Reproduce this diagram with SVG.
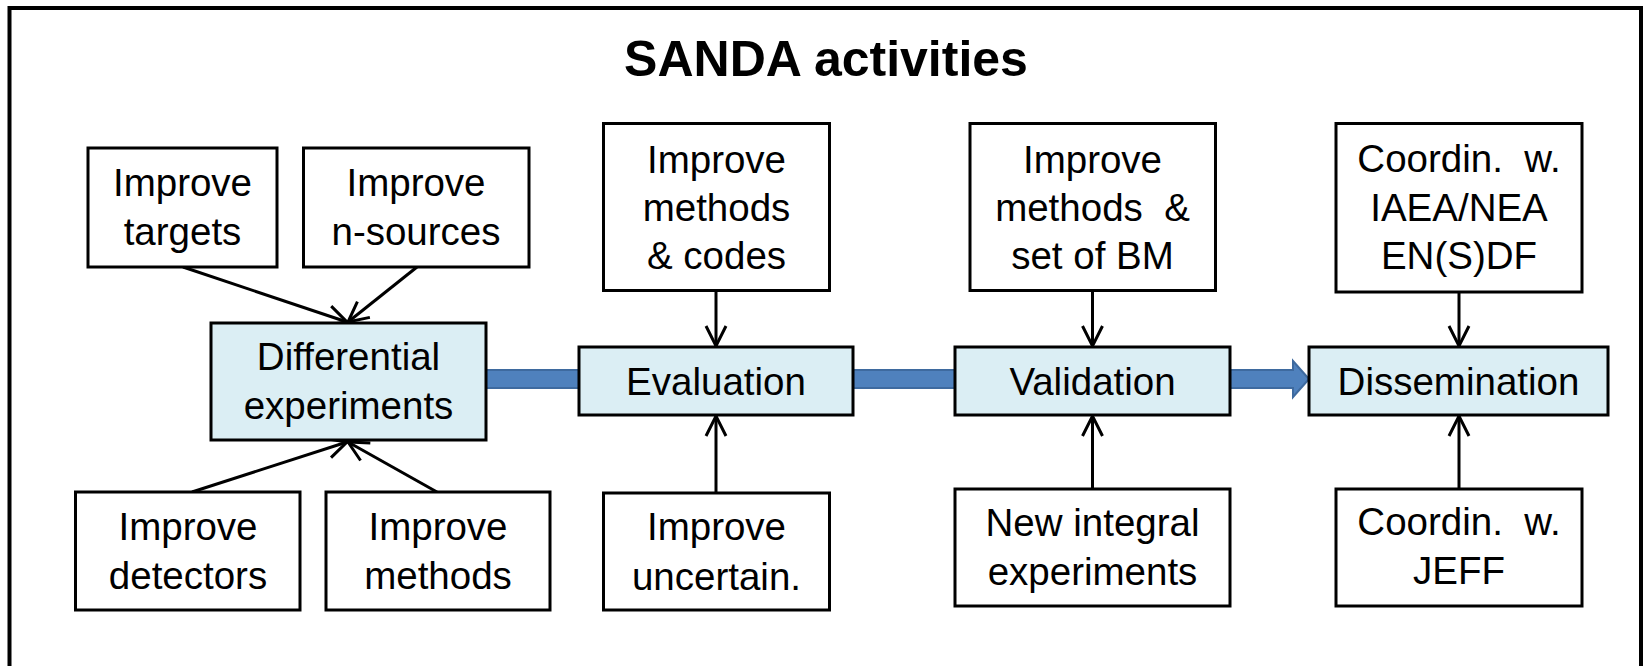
<svg xmlns="http://www.w3.org/2000/svg" width="1647" height="666" viewBox="0 0 1647 666">
  <style>
    .box { fill: #ffffff; stroke: #000; stroke-width: 3; }
    .main { fill: #DBEEF4; stroke: #000; stroke-width: 3; }
    .t { font-family: "Liberation Sans", Arial, sans-serif; font-size: 38.5px; fill: #000; text-anchor: middle; }
    .title { font-family: "Liberation Sans", Arial, sans-serif; font-size: 50px; font-weight: bold; fill: #000; text-anchor: middle; }
    .arr { stroke: #000; stroke-width: 3; fill: none; marker-end: url(#open); }
    .bar { fill: #4F81BD; stroke: #3E6A9F; stroke-width: 2; }
  </style>
  <defs>
    <marker id="open" markerUnits="userSpaceOnUse" viewBox="-24 -14 28 28" markerWidth="28" markerHeight="28" refX="0" refY="0" orient="auto">
      <path d="M -20 -10 L 0 0 L -20 10" fill="none" stroke="#000" stroke-width="3"/>
    </marker>
  </defs>
  <rect width="1647" height="666" fill="#ffffff"/>
  <rect x="9.5" y="8" width="1631.5" height="700" fill="none" stroke="#000" stroke-width="4"/>
  <text class="title" x="826" y="76">SANDA activities</text>

  <g id="connectors">
    <polygon class="bar" points="486,370 579,370 579,388 486,388"/>
    <polygon class="bar" points="853,370 955,370 955,388 853,388"/>
    <polygon class="bar" points="1230,370 1293,370 1293,361 1309,379 1293,397 1293,388 1230,388"/>
    <line class="arr" x1="183" y1="267" x2="347" y2="322"/>
    <line class="arr" x1="417" y1="267" x2="348" y2="322"/>
    <line class="arr" x1="192" y1="492" x2="347" y2="442"/>
    <line class="arr" x1="437" y1="492" x2="348" y2="442"/>
    <line class="arr" x1="716" y1="291" x2="716" y2="346"/>
    <line class="arr" x1="716" y1="493" x2="716" y2="416"/>
    <line class="arr" x1="1092.5" y1="291" x2="1092.5" y2="346"/>
    <line class="arr" x1="1092.5" y1="489" x2="1092.5" y2="416"/>
    <line class="arr" x1="1459" y1="292" x2="1459" y2="346"/>
    <line class="arr" x1="1459" y1="489" x2="1459" y2="416"/>
  </g>

  <g id="improve-targets">
    <rect class="box" x="88" y="148" width="189" height="119"/>
    <text class="t" x="182.5" y="196">Improve</text>
    <text class="t" x="182.5" y="245">targets</text>
  </g>
  <g id="improve-nsources">
    <rect class="box" x="303.5" y="148" width="225.5" height="119"/>
    <text class="t" x="416" y="196">Improve</text>
    <text class="t" x="416" y="245">n-sources</text>
  </g>
  <g id="differential-experiments">
    <rect class="main" x="211" y="323" width="275" height="117"/>
    <text class="t" x="348.5" y="370">Differential</text>
    <text class="t" x="348.5" y="419">experiments</text>
  </g>
  <g id="improve-detectors">
    <rect class="box" x="75.5" y="492" width="224.5" height="118"/>
    <text class="t" x="188" y="540">Improve</text>
    <text class="t" x="188" y="589">detectors</text>
  </g>
  <g id="improve-methods">
    <rect class="box" x="326" y="492" width="224" height="118"/>
    <text class="t" x="438" y="540">Improve</text>
    <text class="t" x="438" y="589">methods</text>
  </g>
  <g id="improve-methods-codes">
    <rect class="box" x="603.5" y="123.5" width="226" height="167"/>
    <text class="t" x="716.5" y="173">Improve</text>
    <text class="t" x="716.5" y="221">methods</text>
    <text class="t" x="716.5" y="269">&amp; codes</text>
  </g>
  <g id="evaluation">
    <rect class="main" x="579" y="347" width="274" height="68"/>
    <text class="t" x="716" y="395">Evaluation</text>
  </g>
  <g id="improve-uncertain">
    <rect class="box" x="603.5" y="493" width="226" height="117"/>
    <text class="t" x="716.5" y="540">Improve</text>
    <text class="t" x="716.5" y="590">uncertain.</text>
  </g>
  <g id="improve-methods-bm">
    <rect class="box" x="970" y="123.5" width="245.5" height="167"/>
    <text class="t" x="1092.5" y="173">Improve</text>
    <text class="t" x="1092.5" y="221" xml:space="preserve">methods  &amp;</text>
    <text class="t" x="1092.5" y="269">set of BM</text>
  </g>
  <g id="validation">
    <rect class="main" x="955" y="347" width="275" height="68"/>
    <text class="t" x="1092.5" y="395">Validation</text>
  </g>
  <g id="new-integral-experiments">
    <rect class="box" x="955" y="489" width="275" height="117"/>
    <text class="t" x="1092.5" y="536">New integral</text>
    <text class="t" x="1092.5" y="585">experiments</text>
  </g>
  <g id="coordin-iaea">
    <rect class="box" x="1336" y="123.5" width="246" height="168.5"/>
    <text class="t" x="1459" y="172" xml:space="preserve">Coordin.  w.</text>
    <text class="t" x="1459" y="221">IAEA/NEA</text>
    <text class="t" x="1459" y="269">EN(S)DF</text>
  </g>
  <g id="dissemination">
    <rect class="main" x="1309" y="347" width="299" height="68"/>
    <text class="t" x="1458.5" y="395">Dissemination</text>
  </g>
  <g id="coordin-jeff">
    <rect class="box" x="1336" y="489" width="246" height="117"/>
    <text class="t" x="1459" y="535" xml:space="preserve">Coordin.  w.</text>
    <text class="t" x="1459" y="584">JEFF</text>
  </g>
</svg>
